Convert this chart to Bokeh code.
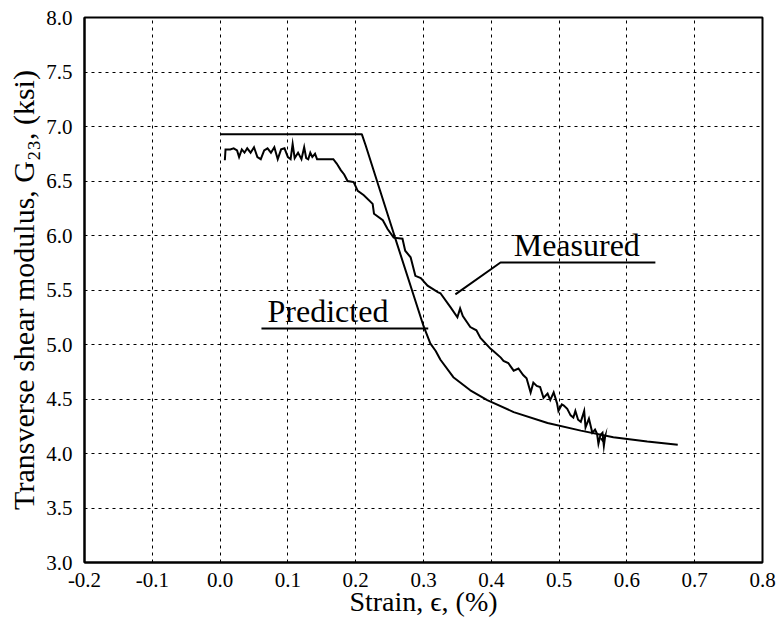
from bokeh.plotting import figure
from bokeh.models import FixedTicker, PrintfTickFormatter, Label
from bokeh.embed import file_html
from bokeh.resources import INLINE

# Predicted curve
pred_x = [0.0, 0.209, 0.2145, 0.256, 0.300, 0.310, 0.318, 0.325, 0.344, 0.369,
          0.394, 0.433, 0.483, 0.532, 0.580, 0.630, 0.675]
pred_y = [6.93, 6.93, 6.83, 6.02, 5.17, 5.01, 4.94, 4.86, 4.70, 4.58,
          4.49, 4.38, 4.28, 4.21, 4.15, 4.11, 4.08]

# Measured curve
meas_x = [0.007, 0.008, 0.015, 0.020, 0.025, 0.028, 0.032, 0.036, 0.040, 0.045,
          0.050, 0.055, 0.060, 0.065, 0.070, 0.075, 0.080, 0.085, 0.090, 0.095,
          0.100, 0.104, 0.107, 0.110, 0.115, 0.120, 0.124, 0.127, 0.130, 0.133,
          0.136, 0.140, 0.143, 0.167, 0.172, 0.178, 0.183, 0.188, 0.197, 0.203,
          0.212, 0.225, 0.227, 0.240, 0.247, 0.256, 0.269, 0.273, 0.281, 0.288,
          0.296, 0.306, 0.321, 0.325, 0.340, 0.350, 0.354, 0.358, 0.369, 0.378,
          0.384, 0.399, 0.403, 0.414, 0.418, 0.425, 0.433, 0.440, 0.447, 0.452,
          0.458, 0.462, 0.467, 0.472, 0.477, 0.483, 0.487, 0.492, 0.497, 0.499,
          0.504, 0.507, 0.512, 0.517, 0.521, 0.524, 0.528, 0.532, 0.537, 0.539,
          0.544, 0.549, 0.553, 0.556, 0.558, 0.561, 0.564, 0.566, 0.568, 0.565,
          0.562]
meas_y = [6.69, 6.79, 6.79, 6.80, 6.78, 6.72, 6.79, 6.76, 6.80, 6.76,
          6.81, 6.72, 6.70, 6.78, 6.80, 6.76, 6.81, 6.70, 6.79, 6.80,
          6.72, 6.70, 6.84, 6.71, 6.76, 6.70, 6.81, 6.71, 6.70, 6.76,
          6.72, 6.75, 6.70, 6.70, 6.66, 6.60, 6.56, 6.50, 6.49, 6.41,
          6.37, 6.29, 6.20, 6.14, 6.06, 5.98, 5.97, 5.86, 5.80, 5.63,
          5.61, 5.54, 5.48, 5.47, 5.34, 5.25, 5.33, 5.26, 5.16, 5.13,
          5.06, 4.96, 4.94, 4.88, 4.85, 4.83, 4.76, 4.78, 4.72, 4.69,
          4.56, 4.65, 4.62, 4.61, 4.51, 4.55, 4.49, 4.56, 4.46, 4.39,
          4.45, 4.44, 4.41, 4.35, 4.33, 4.39, 4.31, 4.29, 4.39, 4.24,
          4.32, 4.19, 4.22, 4.18, 4.09, 4.17, 4.19, 4.07, 4.16, 4.11,
          4.14]

# Annotations (label text, anchor, leader lines)
pred_label = "Predicted"
pred_label_xy = (0.070, 5.22)
pred_leader_x = [0.061, 0.307]
pred_leader_y = [5.147, 5.147]
meas_label = "Measured"
meas_label_xy = (0.433, 5.817)
meas_leader_x = [0.347, 0.4136, 0.642]
meas_leader_y = [5.46, 5.752, 5.752]

x_ticks = [-0.2, -0.1, 0.0, 0.1, 0.2, 0.3, 0.4, 0.5, 0.6, 0.7, 0.8]
y_ticks = [3.0, 3.5, 4.0, 4.5, 5.0, 5.5, 6.0, 6.5, 7.0, 7.5, 8.0]

FONT = "Liberation Serif"

p = figure(width=780, height=622, x_range=(-0.2, 0.8), y_range=(3.0, 8.0),
           output_backend="svg", toolbar_location=None,
           min_border_left=84, min_border_right=18, min_border_top=17,
           min_border_bottom=60)
p.background_fill_color = "white"
p.border_fill_color = "white"
p.outline_line_color = "black"
p.outline_line_width = 2

for ax in (p.xaxis[0], p.yaxis[0]):
    ax.axis_line_color = "black"
    ax.axis_line_width = 2
    ax.major_tick_out = 0
    ax.major_tick_in = 0
    ax.minor_tick_out = 0
    ax.minor_tick_in = 0
    ax.major_label_text_font = FONT
    ax.major_label_text_font_size = "21px"
    ax.major_label_text_color = "black"
    ax.axis_label_text_font = FONT
    ax.axis_label_text_font_style = "normal"
    ax.axis_label_text_color = "black"
    ax.formatter = PrintfTickFormatter(format="%.1f")

p.xaxis[0].axis_label_text_font_size = "28px"
p.yaxis[0].axis_label_text_font_size = "30px"
p.xaxis[0].ticker = FixedTicker(ticks=x_ticks)
p.yaxis[0].ticker = FixedTicker(ticks=y_ticks)
p.xaxis[0].major_label_standoff = 10
p.yaxis[0].major_label_standoff = 12
p.xaxis[0].axis_label_standoff = -4
p.yaxis[0].axis_label_standoff = 3
p.xaxis[0].axis_label = "Strain, ϵ, (%)"
p.yaxis[0].axis_label = "Transverse shear modulus, G₂₃, (ksi)"

for g in (p.xgrid[0], p.ygrid[0]):
    g.grid_line_color = "black"
    g.grid_line_width = 1
    g.grid_line_dash = "3 4"
p.xgrid[0].ticker = FixedTicker(ticks=x_ticks[1:-1])
p.ygrid[0].ticker = FixedTicker(ticks=y_ticks[1:-1])

p.line(pred_x, pred_y, line_color="black", line_width=2)
p.line(meas_x, meas_y, line_color="black", line_width=2, line_join="miter")
p.line(pred_leader_x, pred_leader_y, line_color="black", line_width=2)
p.line(meas_leader_x, meas_leader_y, line_color="black", line_width=2)

p.add_layout(Label(x=pred_label_xy[0], y=pred_label_xy[1], text=pred_label,
                   y_offset=10,
                   text_font=FONT, text_font_size="32px", text_color="black",
                   text_baseline="alphabetic", text_align="left"))
p.add_layout(Label(x=meas_label_xy[0], y=meas_label_xy[1], text=meas_label,
                   y_offset=10,
                   text_font=FONT, text_font_size="32px", text_color="black",
                   text_baseline="alphabetic", text_align="left"))

open("out.html", "w").write(file_html(p, INLINE))
